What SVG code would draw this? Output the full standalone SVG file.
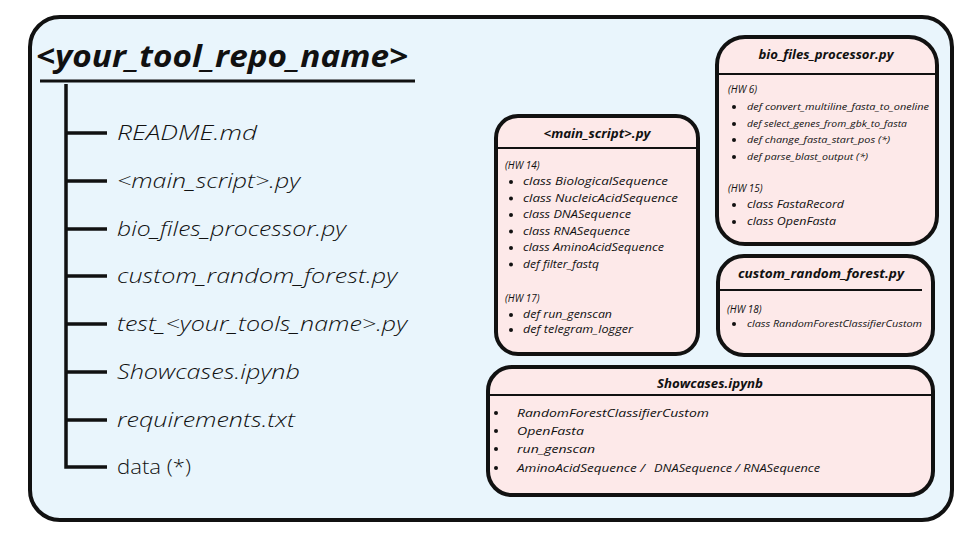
<svg xmlns="http://www.w3.org/2000/svg" width="960" height="540" viewBox="0 0 960 540">
<style>
text{font-family:"Open Sans","Liberation Sans",sans-serif;font-style:italic;fill:#111}
.frame{fill:#e9f5fc;stroke:#111;stroke-width:4}
.box{fill:#fde9e9;stroke:#111;stroke-width:4}
.sep{stroke:#111;stroke-width:2}
.tree{stroke:#111;stroke-width:3.5;fill:none}
.item{font-size:20.5px;font-weight:300}
.hdr{font-size:13px;font-weight:700;text-anchor:middle}
.hw{font-size:10px}
.li{font-size:10px}
.sm{font-size:9px}
.sc{font-size:11.5px}
.dot{fill:#111}
.up{font-style:normal}
</style>
<rect width="960" height="540" fill="#ffffff"/>
<g id="frame">
<rect class="frame" x="30" y="17" width="922" height="503" rx="30"/>
<text x="36" y="67" font-size="30" font-weight="700" textLength="372" lengthAdjust="spacingAndGlyphs">&lt;your_tool_repo_name&gt;</text>
<line x1="40" y1="81" x2="415" y2="81" stroke="#111" stroke-width="3"/>
</g>
<g id="connectors">
<path class="tree" d="M66 84 V467 H107"/>
<path class="tree" d="M66 133 H107 M66 181 H107 M66 229 H107 M66 276 H107 M66 324 H107 M66 372 H107 M66 420 H107"/>
</g>
<g id="tree-items">
<text class="item" x="117" y="140" textLength="140" lengthAdjust="spacingAndGlyphs">README.md</text>
<text class="item" x="117" y="188" textLength="183" lengthAdjust="spacingAndGlyphs">&lt;main_script&gt;.py</text>
<text class="item" x="117" y="236" textLength="229" lengthAdjust="spacingAndGlyphs">bio_files_processor.py</text>
<text class="item" x="117" y="283" textLength="280" lengthAdjust="spacingAndGlyphs">custom_random_forest.py</text>
<text class="item" x="117" y="331" textLength="290" lengthAdjust="spacingAndGlyphs">test_&lt;your_tools_name&gt;.py</text>
<text class="item" x="117" y="379" textLength="183" lengthAdjust="spacingAndGlyphs">Showcases.ipynb</text>
<text class="item" x="117" y="427" textLength="178" lengthAdjust="spacingAndGlyphs">requirements.txt</text>
<text class="item up" x="117" y="474" textLength="74" lengthAdjust="spacingAndGlyphs">data (*)</text>
</g>
<g id="main_script">
<rect class="box" x="496" y="116" width="202" height="238" rx="22"/>
<line class="sep" x1="496" y1="148" x2="698" y2="148"/>
<text class="hdr" x="597" y="138" textLength="107" lengthAdjust="spacingAndGlyphs">&lt;main_script&gt;.py</text>
<text class="hw" x="505" y="169">(HW 14)</text>
<g class="dot"><circle cx="511" cy="182" r="2"/><circle cx="511" cy="198.5" r="2"/><circle cx="511" cy="215" r="2"/><circle cx="511" cy="231.5" r="2"/><circle cx="511" cy="248" r="2"/><circle cx="511" cy="264.5" r="2"/><circle cx="511" cy="315" r="2"/><circle cx="511" cy="330" r="2"/></g>
<text class="li" x="523" y="185" textLength="145" lengthAdjust="spacingAndGlyphs">class BiologicalSequence</text>
<text class="li" x="523" y="201.5" textLength="155" lengthAdjust="spacingAndGlyphs">class NucleicAcidSequence</text>
<text class="li" x="523" y="218" textLength="108" lengthAdjust="spacingAndGlyphs">class DNASequence</text>
<text class="li" x="523" y="234.5" textLength="107" lengthAdjust="spacingAndGlyphs">class RNASequence</text>
<text class="li" x="523" y="251" textLength="141" lengthAdjust="spacingAndGlyphs">class AminoAcidSequence</text>
<text class="li" x="523" y="267.5" textLength="76" lengthAdjust="spacingAndGlyphs">def filter_fastq</text>
<text class="hw" x="505" y="302">(HW 17)</text>
<text class="li" x="523" y="318" textLength="89" lengthAdjust="spacingAndGlyphs">def run_genscan</text>
<text class="li" x="523" y="333" textLength="110" lengthAdjust="spacingAndGlyphs">def telegram_logger</text>
</g>
<g id="bio_files_processor">
<rect class="box" x="717" y="37" width="220" height="207" rx="28"/>
<line class="sep" x1="717" y1="74" x2="937" y2="74"/>
<text class="hdr" x="826" y="59" textLength="135" lengthAdjust="spacingAndGlyphs">bio_files_processor.py</text>
<text class="hw" x="728" y="93">(HW 6)</text>
<g class="dot"><circle cx="734" cy="107" r="2"/><circle cx="734" cy="124" r="2"/><circle cx="734" cy="140" r="2"/><circle cx="734" cy="157" r="2"/><circle cx="734" cy="205" r="2"/><circle cx="734" cy="222" r="2"/></g>
<text class="sm" x="747" y="110" textLength="182" lengthAdjust="spacingAndGlyphs">def convert_multiline_fasta_to_oneline</text>
<text class="sm" x="747" y="127" textLength="160" lengthAdjust="spacingAndGlyphs">def select_genes_from_gbk_to_fasta</text>
<text class="sm" x="747" y="143" textLength="143" lengthAdjust="spacingAndGlyphs">def change_fasta_start_pos (*)</text>
<text class="sm" x="747" y="160" textLength="121" lengthAdjust="spacingAndGlyphs">def parse_blast_output (*)</text>
<text class="hw" x="728" y="192">(HW 15)</text>
<text class="li" x="747" y="208" textLength="97" lengthAdjust="spacingAndGlyphs">class FastaRecord</text>
<text class="li" x="747" y="225" textLength="89" lengthAdjust="spacingAndGlyphs">class OpenFasta</text>
</g>
<g id="custom_random_forest">
<rect class="box" x="718" y="256" width="215" height="99" rx="26"/>
<line class="sep" x1="718" y1="290" x2="922" y2="290"/>
<text class="hdr" x="821" y="278" textLength="166" lengthAdjust="spacingAndGlyphs">custom_random_forest.py</text>
<text class="hw" x="727" y="313">(HW 18)</text>
<circle class="dot" cx="734" cy="324" r="2"/>
<text class="sm" x="747" y="327" textLength="175" lengthAdjust="spacingAndGlyphs">class RandomForestClassifierCustom</text>
</g>
<g id="showcases">
<rect class="box" x="488" y="367" width="445" height="128" rx="24"/>
<line class="sep" x1="488" y1="395" x2="933" y2="395"/>
<text class="hdr" x="710" y="388" textLength="106" lengthAdjust="spacingAndGlyphs">Showcases.ipynb</text>
<g class="dot"><circle cx="496" cy="413" r="2"/><circle cx="496" cy="431" r="2"/><circle cx="496" cy="449" r="2"/><circle cx="496" cy="468" r="2"/></g>
<text class="sc" x="517" y="417" textLength="192" lengthAdjust="spacingAndGlyphs">RandomForestClassifierCustom</text>
<text class="sc" x="517" y="435" textLength="67" lengthAdjust="spacingAndGlyphs">OpenFasta</text>
<text class="sc" x="517" y="453" textLength="78" lengthAdjust="spacingAndGlyphs">run_genscan</text>
<text class="sc" x="517" y="472" textLength="128" lengthAdjust="spacingAndGlyphs">AminoAcidSequence /</text>
<text class="li" x="654" y="472" textLength="166" lengthAdjust="spacingAndGlyphs">DNASequence  / RNASequence</text>
</g>
</svg>
